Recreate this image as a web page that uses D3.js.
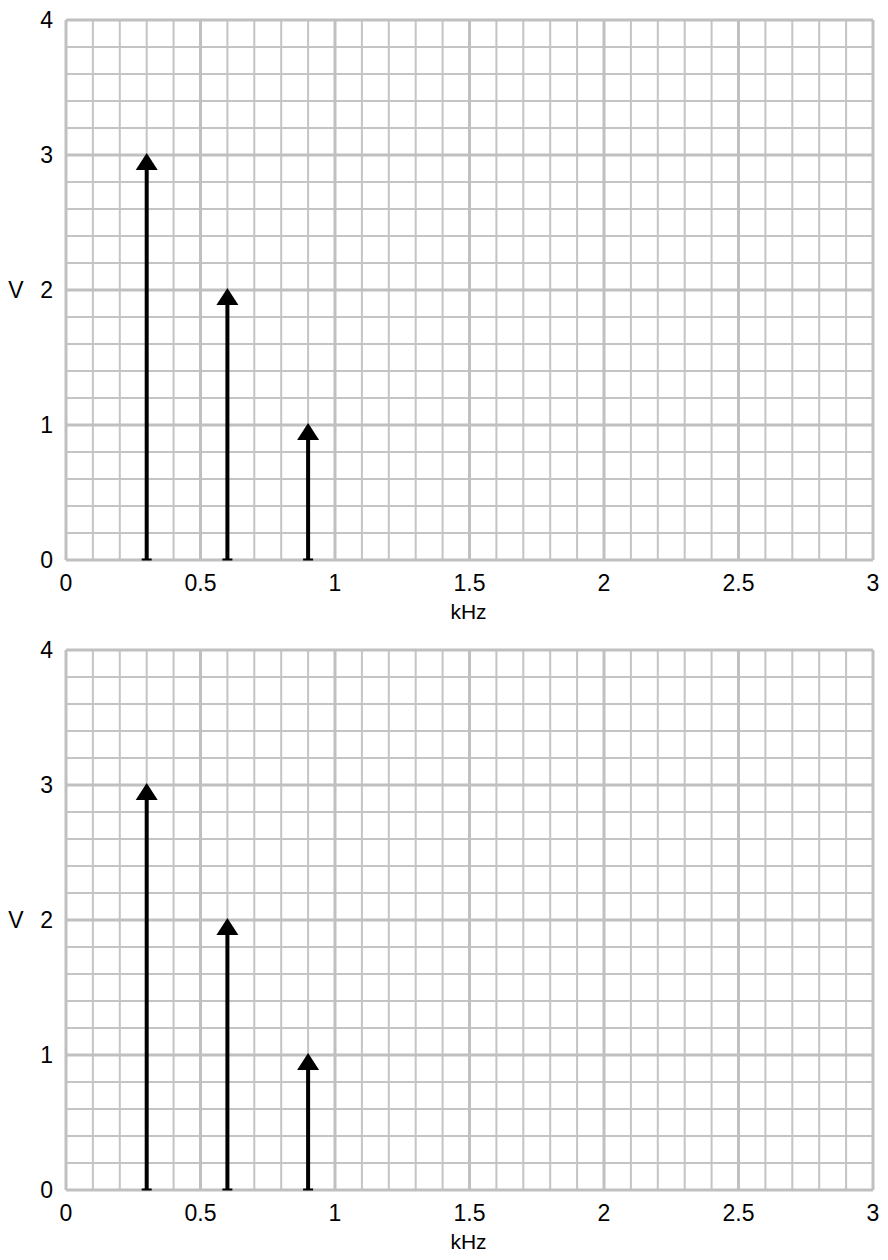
<!DOCTYPE html>
<html><head><meta charset="utf-8">
<script src="https://cdn.jsdelivr.net/npm/d3@7"></script>
<style>body{margin:0;background:#fff}text{font-family:"Liberation Sans",Arial,sans-serif}</style>
</head><body>
<svg id="c" width="888" height="1260"></svg>
<script>
// spectral lines (kHz, V) - same in both panels
const freqs = [0.3, 0.6, 0.9];
const topAmps = [3, 2, 1];
const bottomAmps = [3, 2, 1];
const xTicks = [0, 0.5, 1, 1.5, 2, 2.5, 3];
const yTicks = [0, 1, 2, 3, 4];

const svg = d3.select("#c");
const left = 66, right = 873;

function panel(top, bottom, amps) {
    const x = d3.scaleLinear().domain([0, 3]).range([left, right]);
    const y = d3.scaleLinear().domain([0, 4]).range([bottom, top]);
    const g = svg.append("g");

    const minorX = d3.range(0, 31).map(i => i / 10);
    const minorY = d3.range(0, 21).map(i => i / 5);
    g.selectAll(".mx").data(minorX).enter().append("line")
        .attr("x1", d => x(d)).attr("x2", d => x(d)).attr("y1", top).attr("y2", bottom)
        .attr("stroke", "#c4c4c4").attr("stroke-width", 2);
    g.selectAll(".my").data(minorY).enter().append("line")
        .attr("y1", d => y(d)).attr("y2", d => y(d)).attr("x1", left).attr("x2", right)
        .attr("stroke", "#c4c4c4").attr("stroke-width", 2);
    g.selectAll(".Mx").data(xTicks).enter().append("line")
        .attr("x1", d => x(d)).attr("x2", d => x(d)).attr("y1", top).attr("y2", bottom)
        .attr("stroke", "#c0c0c0").attr("stroke-width", 3);
    g.selectAll(".My").data(yTicks).enter().append("line")
        .attr("y1", d => y(d)).attr("y2", d => y(d)).attr("x1", left).attr("x2", right)
        .attr("stroke", "#c0c0c0").attr("stroke-width", 3);

    g.selectAll(".xt").data(xTicks).enter().append("text")
        .attr("x", d => x(d)).attr("y", bottom + 31).attr("text-anchor", "middle")
        .attr("font-size", 23).text(d => d);
    g.selectAll(".yt").data(yTicks).enter().append("text")
        .attr("x", 53).attr("y", d => y(d) + 8).attr("text-anchor", "end")
        .attr("font-size", 23).text(d => d);
    g.append("text").attr("x", (left + right) / 2 - 1).attr("y", bottom + 59)
        .attr("text-anchor", "middle").attr("font-size", 21).text("kHz");
    g.append("text").attr("x", 16).attr("y", (top + bottom) / 2 + 8)
        .attr("text-anchor", "middle").attr("font-size", 23).text("V");

    const data = freqs.map((f, i) => ({ f, a: amps[i] }));
    g.selectAll(".stem").data(data).enter().append("line")
        .attr("x1", d => x(d.f)).attr("x2", d => x(d.f))
        .attr("y1", bottom).attr("y2", d => y(d.a) + 14)
        .attr("stroke", "#000").attr("stroke-width", 4);
    g.selectAll(".base").data(data).enter().append("line")
        .attr("x1", d => x(d.f) - 5).attr("x2", d => x(d.f) + 5)
        .attr("y1", bottom - 0.5).attr("y2", bottom - 0.5)
        .attr("stroke", "#000").attr("stroke-width", 2);
    g.selectAll(".head").data(data).enter().append("path")
        .attr("d", d => {
            const cx = x(d.f), ty = y(d.a) - 2;
            return `M${cx},${ty}L${cx - 11},${ty + 17}L${cx + 11},${ty + 17}Z`;
        })
        .attr("fill", "#000");
}

panel(20, 560, topAmps);
panel(650, 1190, bottomAmps);
</script>
</body></html>
